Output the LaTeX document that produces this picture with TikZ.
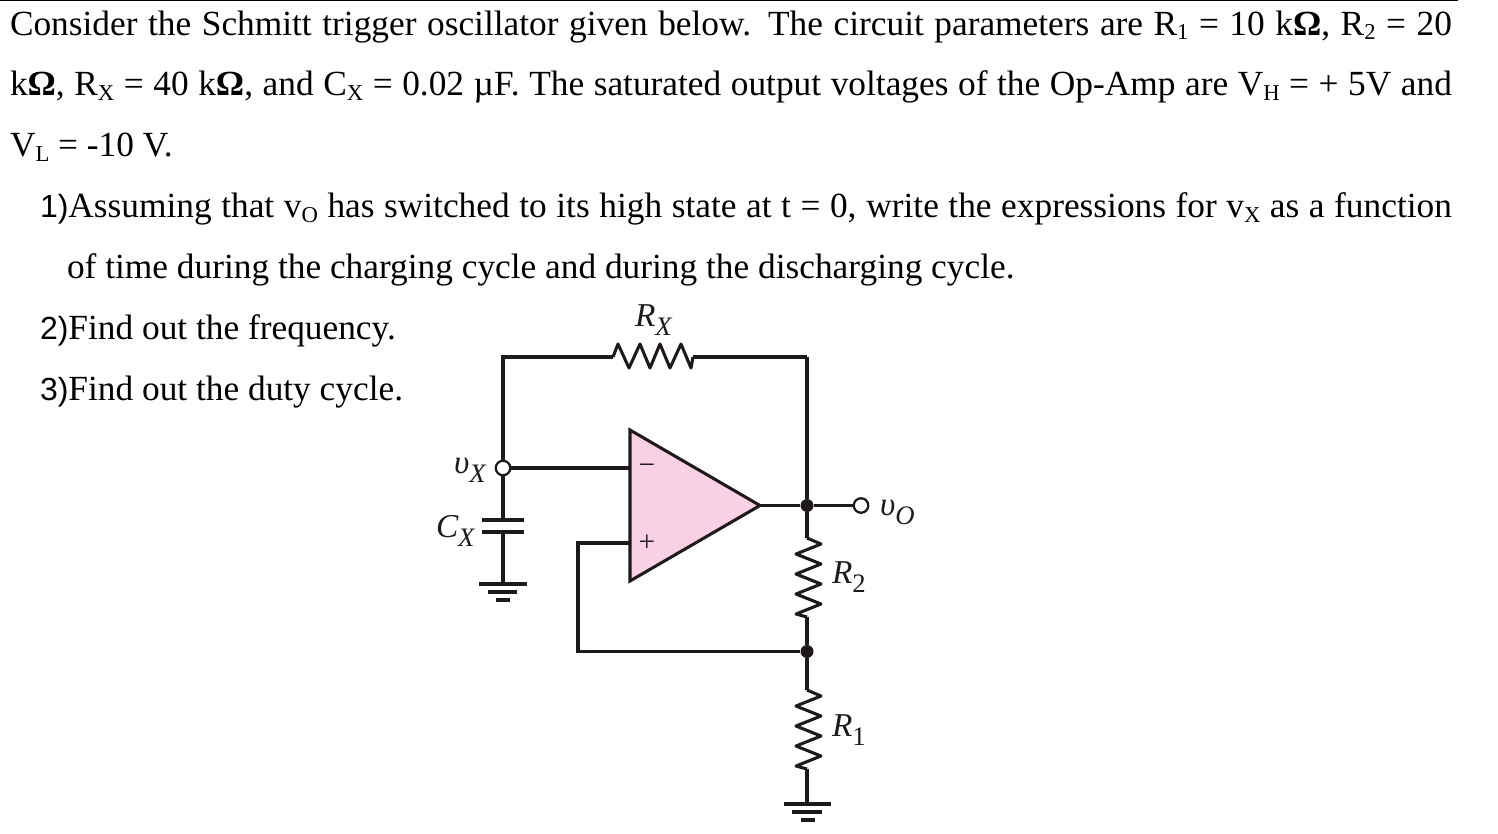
\documentclass[tikz,border=0pt]{standalone}
\usepackage{fontspec}
\setmainfont{Liberation Serif}
\newfontfamily\hsans{Liberation Sans}
\newcommand{\tsub}[1]{\raisebox{-0.12em}{\fontsize{17pt}{17pt}\selectfont #1}}
\newcommand{\csub}[1]{\raisebox{-0.27em}{\fontsize{20pt}{20pt}\selectfont #1}}
\newcommand{\Om}{\textbf{Ω}}
\newcommand{\lbl}[1]{\makebox[#1][s]}
\newcommand{\numf}[1]{{\hsans\fontsize{24pt}{24pt}\selectfont #1}}
\definecolor{oppink}{HTML}{F9D1E3}
\definecolor{inkc}{HTML}{1E1A1B}
\tikzset{
  txt/.style={anchor=base west,inner sep=0pt,outer sep=0pt,font=\fontsize{26.5pt}{26.5pt}\selectfont,text=black},
  cir/.style={anchor=base west,inner sep=0pt,outer sep=0pt,font=\fontsize{25pt}{25pt}\selectfont\itshape,text=inkc},
  wire/.style={draw=inkc,line width=2.3pt,line join=miter},
  bus/.style={draw=inkc,line width=3pt},
  res/.style={draw=inkc,line width=2.3pt,line join=round},
  terminal/.style={circle,draw=inkc,line width=1.7pt,fill=white,minimum size=14.5*0.75pt,inner sep=0pt},
  junction/.style={circle,fill=inkc,minimum size=13*0.75pt,inner sep=0pt},
  plate/.style={draw=inkc,line width=2.8pt}
}
\begin{document}
\begin{tikzpicture}[x=0.75pt,y=-0.75pt]
\useasboundingbox (0,0) rectangle (1498,834);
\draw[black,line width=1.5pt] (0,0.5) -- (1458,0.5);
% text
\node[txt] (l1) at (10,35.5) {\lbl{1081.5pt}{Consider the Schmitt trigger oscillator given below. The circuit parameters are R\tsub{1} = 10 k\Om, R\tsub{2} = 20}};
\node[txt] (l2) at (10,96) {\lbl{1081.5pt}{k\Om, R\tsub{X} = 40 k\Om, and C\tsub{X} = 0.02 µF. The saturated output voltages of the Op-Amp are V\tsub{H} = + 5V and}};
\node[txt] (l3) at (10,157) {V\tsub{L} = -10 V.};
\node[txt] (l4) at (40,218) {\lbl{1059pt}{\numf{1)}Assuming that v\tsub{O} has switched to its high state at t = 0, write the expressions for v\tsub{X} as a function}};
\node[txt] (l5) at (67,278) {of time during the charging cycle and during the discharging cycle.};
\node[txt] (l6) at (40,339) {\numf{2)}Find out the frequency.};
\node[txt] (l7) at (40,400) {\numf{3)}Find out the duty cycle.};
% named points
\coordinate (tl) at (503,357);
\coordinate (tr) at (807,357);
\coordinate (rxa) at (613,357);
\coordinate (rxb) at (693,357);
\coordinate (opA) at (630,430);
\coordinate (opB) at (630,581);
\coordinate (opT) at (760,505.5);
\coordinate (opm) at (630,468);
\coordinate (opp) at (630,543);
\coordinate (fbc) at (578,543);
\coordinate (fbd) at (578,651.5);
\coordinate (r2a) at (807,538);
\coordinate (r2b) at (807,617);
\coordinate (r1a) at (807,690);
\coordinate (r1b) at (807,769);
\coordinate (g1) at (807,804);
\coordinate (capa) at (503,520);
\coordinate (capb) at (503,532);
\coordinate (g2) at (503,584);
% op-amp
\path[fill=oppink] (opA) -- (opT) -- (opB) -- cycle;
\draw[wire,line join=miter] (opA) -- (opT) -- (opB) -- cycle;
\node[junction] (nout) at (807,505.5) {};
\node[junction] (nfb) at (807,651.5) {};
\node[terminal] (vx) at (503,468) {};
\node[terminal] (vo) at (861,505.5) {};
% wires
\draw[wire] (vx) -- (tl) -- (rxa);
\draw[wire] (rxb) -- (tr);
\draw[bus] (tr) -- (nout);
\draw[wire] (vx) -- (opm);
\draw[wire] (opT) -- (nout);
\draw[wire] (nout) -- (vo);
\draw[bus] (nout) -- (r2a);
\draw[bus] (r2b) -- (nfb);
\draw[bus] (nfb) -- (r1a);
\draw[bus] (r1b) -- (g1);
\draw[wire] (opp) -- (fbc) -- (fbd) -- (nfb);
\draw[wire] (vx) -- (capa);
\draw[wire] (capb) -- (g2);
% resistors
\draw[res] (rxa) -- ++(5,-13) -- ++(11,24) -- ++(11,-24) -- ++(10,24) -- ++(10,-24) -- ++(10,24) -- ++(11,-24) -- ++(10,24) -- (rxb);
\draw[res] (r2a) -- ++(14,6) -- ++(-25,10) -- ++(25,10) -- ++(-25,10) -- ++(25,10) -- ++(-25,10) -- ++(25,10) -- ++(-25,10) -- (r2b);
\draw[res] (r1a) -- ++(14,6) -- ++(-25,10) -- ++(25,10) -- ++(-25,10) -- ++(25,10) -- ++(-25,10) -- ++(25,10) -- ++(-25,10) -- (r1b);
% capacitor and grounds
\draw[plate] (481.5,520) -- (523.5,520);
\draw[plate] (481.5,532) -- (523.5,532);
\draw[plate] (479,584) -- (527,584);
\draw[plate] (488,592) -- (517,592);
\draw[plate] (496,600) -- (510,600);
\draw[plate] (784,804) -- (831,804);
\draw[plate] (792,812) -- (822,812);
\draw[plate] (801,820) -- (815,820);
% labels
\node[cir] (lrx) at (635,326) {R\csub{X}};
\node[cir] (lvx) at (454,473) {υ\csub{X}};
\node[cir] (lcx) at (436,537) {C\csub{X}};
\node[cir] (lvo) at (880,515) {υ\csub{O}};
\node[cir] (lr2) at (832,583) {R\csub{\upshape 2}};
\node[cir] (lr1) at (832,736) {R\csub{\upshape 1}};
\node[inner sep=0pt,text=inkc,font=\fontsize{22pt}{22pt}\selectfont] (mn) at (647,469) {−};
\node[inner sep=0pt,text=inkc,font=\fontsize{22pt}{22pt}\selectfont] (pl) at (647,543) {+};
\end{tikzpicture}
\end{document}
